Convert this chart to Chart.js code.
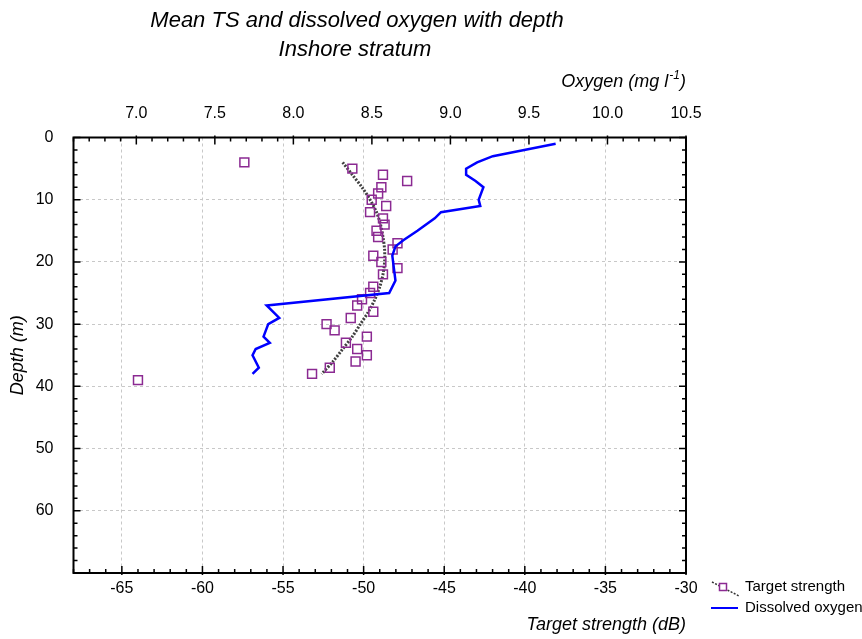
<!DOCTYPE html>
<html>
<head>
<meta charset="utf-8">
<title>Mean TS and dissolved oxygen with depth</title>
<script src="https://cdn.jsdelivr.net/npm/chart.js@4.4.0/dist/chart.umd.min.js"></script>
<style>
  html, body { margin: 0; padding: 0; background: #fff; }
  #wrap { width: 862px; height: 639px; }
</style>
</head>
<body>
<div id="wrap"><canvas id="chart" width="862" height="639"></canvas></div>
<script>
// target strength (dB) per depth (m)
const tsDepth  = [4, 5, 6, 7, 8, 9, 10, 11, 12, 13, 14, 15, 16, 17, 18, 19, 20, 21, 22,
                  24, 25, 26, 27, 28, 29, 30, 31, 32, 33, 34, 35, 36, 37, 38, 39];
const tsValues = [-57.4, -50.7, -48.8, -47.3, -48.9, -49.1, -49.5, -48.6, -49.6, -48.8,
                  -48.7, -49.2, -49.1, -47.9, -48.2, -49.4, -48.9, -47.9, -48.8,
                  -49.4, -49.6, -50.1, -50.4, -49.4, -50.8, -52.3, -51.8, -49.8, -51.1,
                  -50.4, -49.8, -50.5, -52.1, -53.2, -64.0];

// fitted TS curve (dotted line)
const trendDepth  = [4, 6, 8, 10, 12, 14, 16, 18, 20, 22, 24, 26, 28, 30, 32, 34, 36, 38];
const trendValues = [-51.3, -50.7, -50.1, -49.6, -49.2, -48.95, -48.8, -48.7, -48.7,
                     -48.8, -49.0, -49.3, -49.7, -50.2, -50.7, -51.3, -51.9, -52.6];

// dissolved oxygen (mg/l) per depth (m)
const oxyDepth  = [1, 2, 3, 4, 5, 6, 7, 8, 10, 11, 12, 13, 15, 16.5, 17.5, 19, 21, 23, 25,
                   27, 29, 30, 32, 33, 34, 35, 37, 38];
const oxyValues = [9.67, 9.47, 9.27, 9.17, 9.10, 9.10, 9.16, 9.21, 9.18, 9.19, 8.94, 8.90,
                   8.79, 8.70, 8.65, 8.63, 8.64, 8.65, 8.61, 7.83, 7.91, 7.84, 7.81, 7.85,
                   7.76, 7.74, 7.78, 7.74];

const tsTicks = [-65, -60, -55, -50, -45, -40, -35, -30];
const oxyTicks = [7.0, 7.5, 8.0, 8.5, 9.0, 9.5, 10.0, 10.5];
const depthTicks = [0, 10, 20, 30, 40, 50, 60];

const FONT = '"Liberation Sans", Arial, sans-serif';
const PURPLE = '#8b2a92';
const BLUE = '#0000ff';

Chart.defaults.font.family = FONT;
Chart.defaults.color = '#000';

// frame, inward ticks, titles and legend
const decor = {
  id: 'decor',
  afterDraw(chart) {
    const { ctx, chartArea: a, scales } = chart;
    ctx.save();
    ctx.strokeStyle = '#000';
    ctx.lineWidth = 1.5;
    ctx.beginPath();
    for (let v = -68; v <= -30; v++) {
      const px = scales.x.getPixelForValue(v);
      const big = v % 5 === 0;
      ctx.moveTo(px, a.bottom + (big ? 2 : 0)); ctx.lineTo(px, a.bottom - (big ? 7 : 4));
    }
    for (let k = 66; k <= 105; k++) {
      const px = scales.x2.getPixelForValue(k / 10);
      const big = k % 5 === 0;
      ctx.moveTo(px, a.top - (big ? 2 : 0)); ctx.lineTo(px, a.top + (big ? 7 : 4));
    }
    for (let d = 0; d <= 70; d += 2) {
      const py = scales.y.getPixelForValue(d);
      const len = d % 10 === 0 ? 7 : 4;
      ctx.moveTo(a.left, py); ctx.lineTo(a.left + len, py);
      ctx.moveTo(a.right, py); ctx.lineTo(a.right - len, py);
    }
    ctx.stroke();
    ctx.lineWidth = 2;
    ctx.strokeRect(a.left, a.top, a.right - a.left, a.bottom - a.top);

    // main title
    ctx.fillStyle = '#000';
    ctx.textAlign = 'center';
    ctx.textBaseline = 'middle';
    ctx.font = 'italic 22px ' + FONT;
    ctx.fillText('Mean TS and dissolved oxygen with depth', 357, 21);
    ctx.fillText('Inshore stratum', 355, 50);

    // top axis title with superscript
    ctx.textAlign = 'left';
    ctx.font = 'italic 18px ' + FONT;
    const t1 = 'Oxygen (mg l', t3 = ')';
    const w1 = ctx.measureText(t1).width, w3 = ctx.measureText(t3).width;
    ctx.font = 'italic 12px ' + FONT;
    const t2 = '-1';
    const w2 = ctx.measureText(t2).width;
    let x0 = a.right - (w1 + w2 + w3 + 1);
    ctx.font = 'italic 18px ' + FONT;
    ctx.fillText(t1, x0, 82);
    ctx.font = 'italic 12px ' + FONT;
    ctx.fillText(t2, x0 + w1 + 1, 76);
    ctx.font = 'italic 18px ' + FONT;
    ctx.fillText(t3, x0 + w1 + w2 + 1, 82);

    // legend
    ctx.strokeStyle = '#333';
    ctx.lineWidth = 1.5;
    ctx.setLineDash([2, 1.5]);
    ctx.beginPath();
    ctx.moveTo(712, 582); ctx.lineTo(739, 596);
    ctx.stroke();
    ctx.setLineDash([]);
    ctx.fillStyle = '#fff';
    ctx.fillRect(719.5, 583.5, 7, 7);
    ctx.strokeStyle = PURPLE;
    ctx.strokeRect(719.5, 583.5, 7, 7);
    ctx.strokeStyle = BLUE;
    ctx.lineWidth = 2;
    ctx.beginPath();
    ctx.moveTo(711, 608); ctx.lineTo(738, 608);
    ctx.stroke();
    ctx.fillStyle = '#000';
    ctx.font = '15px ' + FONT;
    ctx.fillText('Target strength', 745, 587);
    ctx.fillText('Dissolved oxygen', 745, 608);
    ctx.restore();
  }
};

new Chart(document.getElementById('chart'), {
  type: 'scatter',
  data: {
    datasets: [
      {
        label: 'Dissolved oxygen',
        data: oxyDepth.map((d, i) => ({ x: oxyValues[i], y: d })),
        xAxisID: 'x2', yAxisID: 'y',
        showLine: true, borderColor: BLUE, borderWidth: 2.5,
        pointRadius: 0, tension: 0, order: 0
      },
      {
        label: 'Target strength',
        data: tsDepth.map((d, i) => ({ x: tsValues[i], y: d })),
        xAxisID: 'x', yAxisID: 'y',
        pointStyle: 'rect', pointRadius: 6.3, borderWidth: 1.5,
        borderColor: PURPLE, backgroundColor: 'rgba(0,0,0,0)', order: 1
      },
      {
        label: 'TS fit',
        data: trendDepth.map((d, i) => ({ x: trendValues[i], y: d })),
        xAxisID: 'x', yAxisID: 'y',
        showLine: true, borderColor: '#404040', borderWidth: 3, borderDash: [2, 1.5],
        pointRadius: 0, tension: 0.3, order: 2
      }
    ]
  },
  options: {
    responsive: false,
    animation: false,
    devicePixelRatio: 1,
    layout: { padding: { top: 0, left: 0, right: 176, bottom: 0 } },
    plugins: { legend: { display: false }, tooltip: { enabled: false }, title: { display: false } },
    scales: {
      x: {
        type: 'linear', position: 'bottom', min: -68, max: -30,
        afterBuildTicks: s => { s.ticks = tsTicks.map(v => ({ value: v })); },
        afterFit: s => { s.height = 66; },
        ticks: { padding: 6, font: { size: 16 }, callback: v => String(v) },
        grid: { color: '#c8c8c8', lineWidth: 1, drawTicks: false },
        border: { display: false, dash: [3, 3] },
        title: { display: true, text: 'Target strength (dB)', align: 'end',
                 font: { size: 18, style: 'italic' }, padding: { top: 0, bottom: 3 } }
      },
      x2: {
        type: 'linear', position: 'top', min: 6.6, max: 10.5,
        afterBuildTicks: s => { s.ticks = oxyTicks.map(v => ({ value: v })); },
        afterFit: s => { s.height = 137.5; },
        ticks: { padding: 14, font: { size: 16 }, callback: v => Number(v).toFixed(1) },
        grid: { display: false, drawTicks: false },
        border: { display: false }
      },
      y: {
        type: 'linear', reverse: true, min: 0, max: 70,
        afterBuildTicks: s => { s.ticks = depthTicks.map(v => ({ value: v })); },
        afterFit: s => { s.width = 73.5; },
        ticks: { padding: 20, font: { size: 16 } },
        grid: { color: '#c8c8c8', lineWidth: 1, drawTicks: false },
        border: { display: false, dash: [3, 3] },
        title: { display: true, text: 'Depth (m)', font: { size: 18, style: 'italic' },
                 padding: { top: 7, bottom: 0 } }
      }
    }
  },
  plugins: [decor]
});
</script>
</body>
</html>
